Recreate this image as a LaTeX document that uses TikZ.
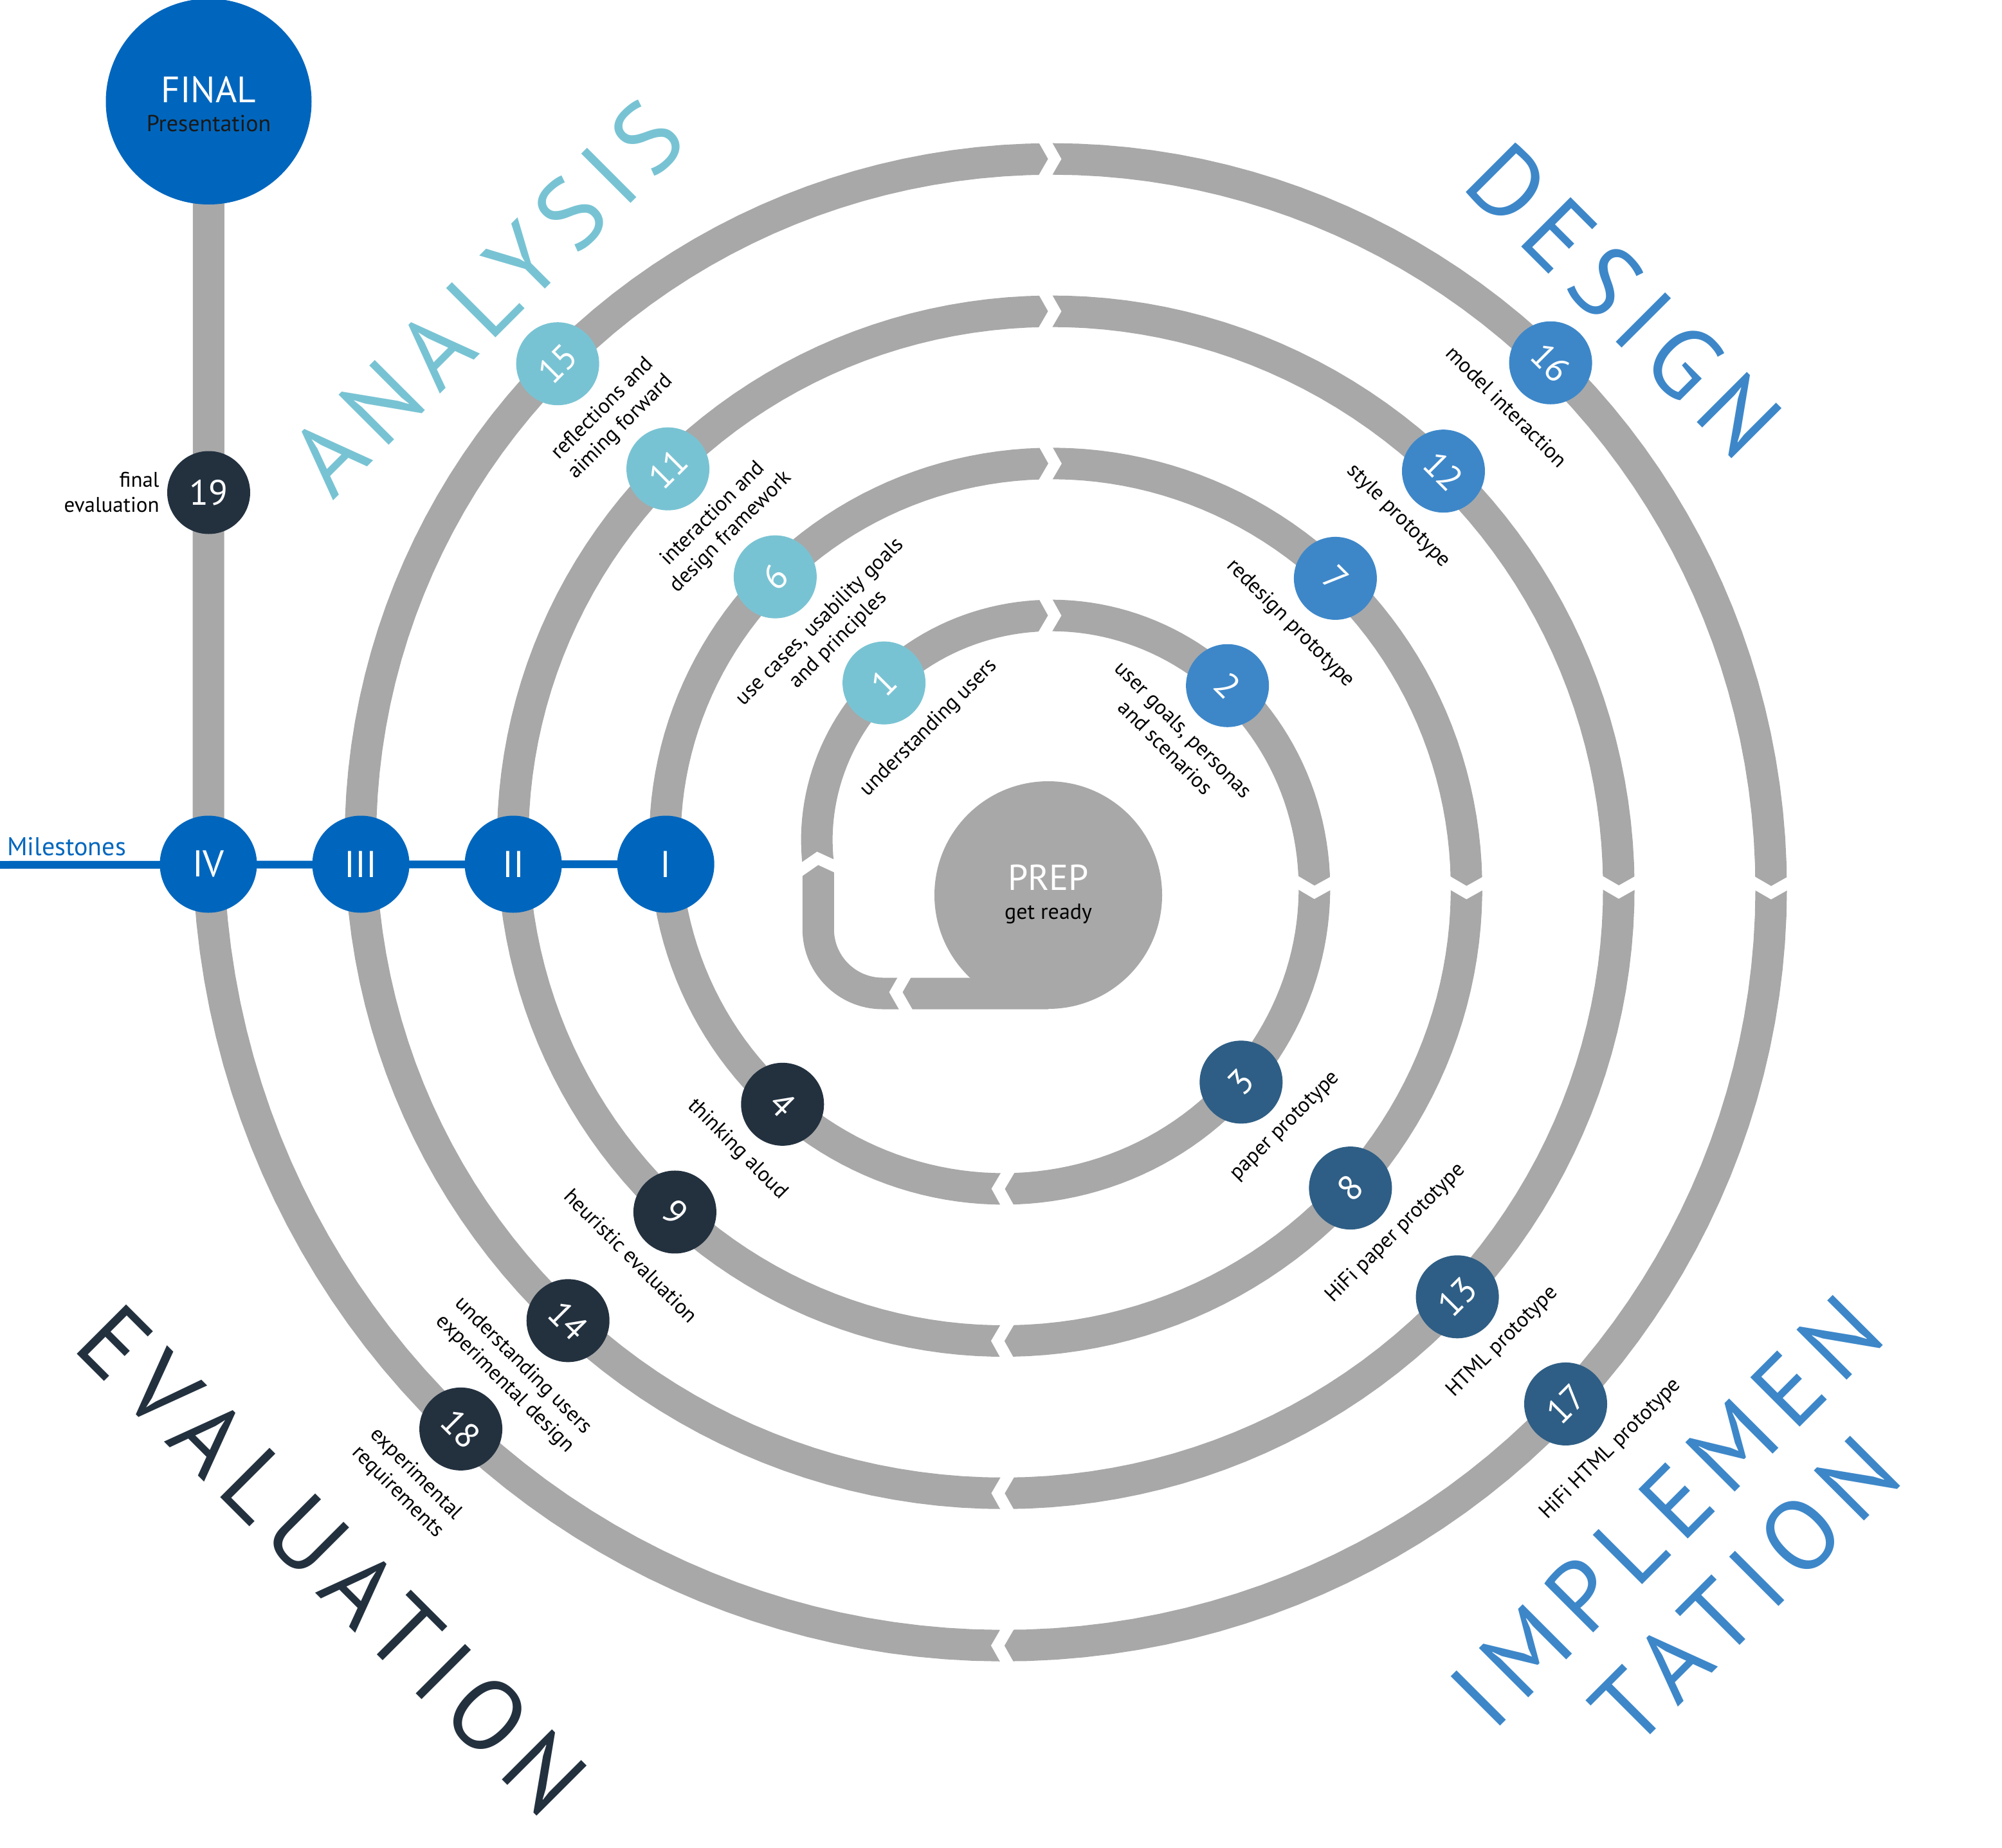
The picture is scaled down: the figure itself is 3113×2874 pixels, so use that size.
\documentclass[tikz,border=0pt]{standalone}
\usepackage{fontspec}
\setmainfont{PT Sans}
\newfontfamily\bigfont[LetterSpace=13]{PT Sans}
\usetikzlibrary{calc}

\definecolor{bandgray}{HTML}{A8A8A8}
\definecolor{cAna}{HTML}{78C3D3}
\definecolor{cDes}{HTML}{3D87C9}
\definecolor{cImp}{HTML}{2E5E85}
\definecolor{cEva}{HTML}{23313F}
\definecolor{cMile}{HTML}{0066BD}

\tikzset{
  band/.style={draw=bandgray, line width=49pt, line cap=butt, line join=round},
  gap/.style={draw=white, line width=18pt, line cap=butt, miter limit=20},
  stepnode/.style={circle, inner sep=0pt, minimum size=129pt, text=white,
    font=\fontsize{55}{55}\selectfont},
  phA/.style={stepnode, fill=cAna},
  phD/.style={stepnode, fill=cDes},
  phI/.style={stepnode, fill=cImp},
  phE/.style={stepnode, fill=cEva},
  lbl/.style={inner sep=0pt, align=center, anchor=north, text=black,
    font=\fontsize{33}{40}\selectfont},
  upR/.style={lbl, rotate=45},
  dnR/.style={lbl, rotate=-45},
  mile/.style={circle, fill=cMile, minimum size=151pt, inner sep=0pt, text=white,
    font=\fontsize{58}{58}\selectfont},
  mileline/.style={draw=cMile, line width=12pt},
  bigword/.style={inner sep=0pt, align=center, font=\bigfont\fontsize{155}{174}\selectfont},
}

% white chevron cut across the spiral band at spiral angle #1
\newcommand\gapmark[1]{%
  \pgfmathsetmacro\gapr{0.6585*#1+207.2}%
  \pgfmathsetmacro\gaprot{-#1-90+atan(37.73/\gapr)}%
  \begin{scope}[shift={(1598,1344)}, shift={(#1:\gapr)}, rotate=\gaprot]
    \draw[gap] (-22.4,-39.2) -- (0,0) -- (-22.4,39.2);
  \end{scope}}

\begin{document}
\begin{tikzpicture}[x=1pt,y=-1pt]
\useasboundingbox (0,0) rectangle (3113,2874);

% ---- points on the spiral (centre 1598,1344; r = 0.6585*angle + 207.2)
\coordinate (s0)  at ([shift={(1598,1344)}]180:325.7);
\coordinate (p1)  at ([shift={(1598,1344)}]231.6:359.7);
\coordinate (p2)  at ([shift={(1598,1344)}]318.2:416.7);
\coordinate (p3)  at ([shift={(1598,1344)}]405.6:474.3);
\coordinate (p4)  at ([shift={(1598,1344)}]495.6:533.6);
\coordinate (pI)  at ([shift={(1598,1344)}]540:562.8);
\coordinate (p6)  at ([shift={(1598,1344)}]588.7:594.9);
\coordinate (p7)  at ([shift={(1598,1344)}]677.1:653.1);
\coordinate (p8)  at ([shift={(1598,1344)}]765.1:711.0);
\coordinate (p9)  at ([shift={(1598,1344)}]855.4:770.5);
\coordinate (pII) at ([shift={(1598,1344)}]900:799.9);
\coordinate (p11) at ([shift={(1598,1344)}]947.7:831.3);
\coordinate (p12) at ([shift={(1598,1344)}]1036.6:889.8);
\coordinate (p13) at ([shift={(1598,1344)}]1125.2:948.2);
\coordinate (p14) at ([shift={(1598,1344)}]1215.2:1007.4);
\coordinate (pIII) at ([shift={(1598,1344)}]1260:1036.9);
\coordinate (p15) at ([shift={(1598,1344)}]1306.8:1067.7);
\coordinate (p16) at ([shift={(1598,1344)}]1396.2:1126.6);
\coordinate (p17) at ([shift={(1598,1344)}]1485.1:1185.1);
\coordinate (p18) at ([shift={(1598,1344)}]1575.1:1244.4);
\coordinate (pIV) at ([shift={(1598,1344)}]1620:1274.0);
\coordinate (tail) at (1630,1545);
\coordinate (finalc) at (324.5,158);
\coordinate (mstart) at (0,1345);

% ---- grey track
\draw[band] plot[domain=180:1620, samples=721, variable=\t]
  ([shift={(1598,1344)}]\t:{0.6585*\t+207.2});
\draw[band, rounded corners=100pt] (tail) -| (s0);
\draw[band] (pIV) -- (finalc);

% ---- arrow cuts along the track
\gapmark{181.6}
\gapmark{276.2}  \gapmark{633.9}  \gapmark{992.8}  \gapmark{1352.2}
\gapmark{365.6}  \gapmark{723.7}  \gapmark{1082.7} \gapmark{1442.2}
\gapmark{455.2}  \gapmark{813.6}  \gapmark{1172.7} \gapmark{1532.2}
\begin{scope}[shift={(1393,1543)}, rotate=180]
  \draw[gap] (-22.4,-39.2) -- (0,0) -- (-22.4,39.2);
\end{scope}

% ---- start and finish
\node[circle, fill=bandgray, minimum size=354pt, inner sep=0pt] (prep) at (1630,1392) {};
\node[anchor=base, inner sep=0pt, text=white, font=\fontsize{56}{56}\selectfont]
  at ([yshift=8pt]prep.center) {PREP};
\node[anchor=base, inner sep=0pt, text=black, font=\fontsize{34}{34}\selectfont]
  at ([yshift=-37pt]prep.center) {get ready};

\node[circle, fill=cMile, minimum size=320pt, inner sep=0pt] (final) at (finalc) {};
\node[anchor=base, inner sep=0pt, text=white, font=\fontsize{57}{57}\selectfont]
  at ([yshift=-2pt]final.center) {FINAL};
\node[anchor=base, inner sep=0pt, text=black!90, font=\fontsize{36}{36}\selectfont]
  at ([yshift=-47pt]final.center) {Presentation};

% ---- milestones
\draw[mileline] (mstart) -- (pI);
\node[anchor=base west, inner sep=0pt, text=cMile, font=\fontsize{40}{40}\selectfont]
  (mlbl) at (11,1330) {Milestones};
\node[mile] (mI)   at (pI)   {I};
\node[mile] (mII)  at (pII)  {II};
\node[mile] (mIII) at (pIII) {III};
\node[mile] (mIV)  at (pIV)  {IV};

% ---- steps
\node[phA, rotate=45]  (n1)  at (p1)  {1};
\node[phD, rotate=-45] (n2)  at (p2)  {2};
\node[phI, rotate=45]  (n3)  at (p3)  {3};
\node[phE, rotate=-45] (n4)  at (p4)  {4};
\node[phA, rotate=45]  (n6)  at (p6)  {6};
\node[phD, rotate=-45] (n7)  at (p7)  {7};
\node[phI, rotate=45]  (n8)  at (p8)  {8};
\node[phE, rotate=-45] (n9)  at (p9)  {9};
\node[phA, rotate=45]  (n11) at (p11) {11};
\node[phD, rotate=-45] (n12) at (p12) {12};
\node[phI, rotate=45]  (n13) at (p13) {13};
\node[phE, rotate=-45] (n14) at (p14) {14};
\node[phA, rotate=45]  (n15) at (p15) {15};
\node[phD, rotate=-45] (n16) at (p16) {16};
\node[phI, rotate=45]  (n17) at (p17) {17};
\node[phE, rotate=-45] (n18) at (p18) {18};
\node[phE] (n19) at (324.5,766) {19};

% ---- step captions
\node[upR] (t1)  at ($(n1)+(59.4,59.4)$)   {understanding users};
\node[dnR] (t2)  at ($(n2)+(-59.4,59.4)$)  {user goals, personas\\and scenarios};
\node[upR] (t3)  at ($(n3)+(59.4,59.4)$)   {paper prototype};
\node[dnR] (t4)  at ($(n4)+(-59.4,59.4)$)  {thinking aloud};
\node[upR] (t6)  at ($(n6)+(59.4,59.4)$)   {use cases, usability goals\\and principles};
\node[dnR] (t7)  at ($(n7)+(-59.4,59.4)$)  {redesign prototype};
\node[upR] (t8)  at ($(n8)+(59.4,59.4)$)   {HiFi paper prototype};
\node[dnR] (t9)  at ($(n9)+(-59.4,59.4)$)  {heuristic evaluation};
\node[upR] (t11) at ($(n11)+(59.4,59.4)$)  {interaction and\\design framework};
\node[dnR] (t12) at ($(n12)+(-59.4,59.4)$) {style prototype};
\node[upR] (t13) at ($(n13)+(59.4,59.4)$)  {HTML prototype};
\node[dnR] (t14) at ($(n14)+(-59.4,59.4)$) {understanding users\\experimental design};
\node[upR] (t15) at ($(n15)+(59.4,59.4)$)  {reflections and\\aiming forward};
\node[dnR] (t16) at ($(n16)+(-59.4,59.4)$) {model interaction};
\node[upR] (t17) at ($(n17)+(59.4,59.4)$)  {HiFi HTML prototype};
\node[dnR] (t18) at ($(n18)+(-59.4,59.4)$) {experimental\\requirements};
\node[lbl, anchor=east, align=right, font=\fontsize{33}{39}\selectfont]
  (t19) at ([xshift=-12pt]n19.west) {final\\evaluation};

% ---- phase titles
\node[bigword, rotate=45,  text=cAna] (wA) at (757,463)   {ANALYSIS};
\node[bigword, rotate=-45, text=cDes] (wD) at (2525,467)  {DESIGN};
\node[bigword, rotate=-45, text=cEva] (wE) at (516,2426)  {EVALUATION};
\node[bigword, rotate=45,  text=cDes] (wI) at (2652,2412) {IMPLEMEN\\TATION};
\end{tikzpicture}
\end{document}
